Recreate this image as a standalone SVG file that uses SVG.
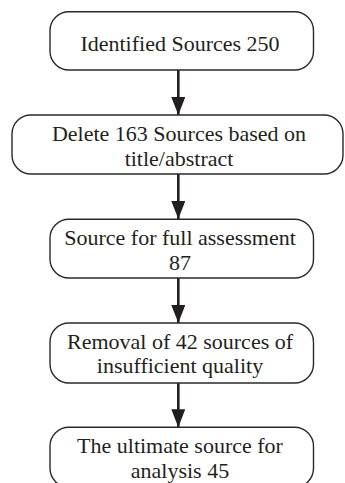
<svg xmlns="http://www.w3.org/2000/svg" width="345" height="483" viewBox="0 0 345 483">
  <style>
    .box { fill: #ffffff; stroke: #2a2a2a; stroke-width: 1.4; }
    .lbl { font-family: "Liberation Serif", "DejaVu Serif", serif; font-size: 22px; fill: #231f20; text-anchor: middle; }
    .edge { stroke: #231f20; stroke-width: 2.6; fill: none; }
  </style>
  <defs>
    <marker id="arr" markerUnits="userSpaceOnUse" markerWidth="18" markerHeight="14" refX="18" refY="7" orient="auto" viewBox="0 0 18 14">
      <path d="M0,0 L18,7 L0,14 Z" fill="#231f20"/>
    </marker>
  </defs>
  <rect width="345" height="483" fill="#ffffff"/>
  <g id="connectors">
    <line class="edge" x1="178.3" y1="70" x2="178.3" y2="115" marker-end="url(#arr)"/>
    <line class="edge" x1="178.3" y1="174" x2="178.3" y2="219" marker-end="url(#arr)"/>
    <line class="edge" x1="178.3" y1="278" x2="178.3" y2="323" marker-end="url(#arr)"/>
    <line class="edge" x1="178.3" y1="383" x2="178.3" y2="427.3" marker-end="url(#arr)"/>
  </g>
  <g id="node1">
    <rect class="box" x="50" y="11.7" width="263.5" height="58.3" rx="19" ry="19"/>
    <text class="lbl" x="180" y="50.7">Identified Sources 250</text>
  </g>
  <g id="node2">
    <rect class="box" x="12" y="115" width="331" height="59" rx="19" ry="19"/>
    <text class="lbl" x="179" y="141">Delete 163 Sources based on</text>
    <text class="lbl" x="179" y="165.5">title/abstract</text>
  </g>
  <g id="node3">
    <rect class="box" x="50" y="219.3" width="263.5" height="58.7" rx="19" ry="19"/>
    <text class="lbl" x="180" y="245">Source for full assessment</text>
    <text class="lbl" x="180" y="270">87</text>
  </g>
  <g id="node4">
    <rect class="box" x="50" y="323" width="263.5" height="60" rx="19" ry="19"/>
    <text class="lbl" x="180" y="348.5">Removal of 42 sources of</text>
    <text class="lbl" x="180" y="373">insufficient quality</text>
  </g>
  <g id="node5">
    <rect class="box" x="50" y="427.3" width="263.5" height="60" rx="19" ry="19"/>
    <text class="lbl" x="180" y="453">The ultimate source for</text>
    <text class="lbl" x="180" y="477.5">analysis 45</text>
  </g>
</svg>
